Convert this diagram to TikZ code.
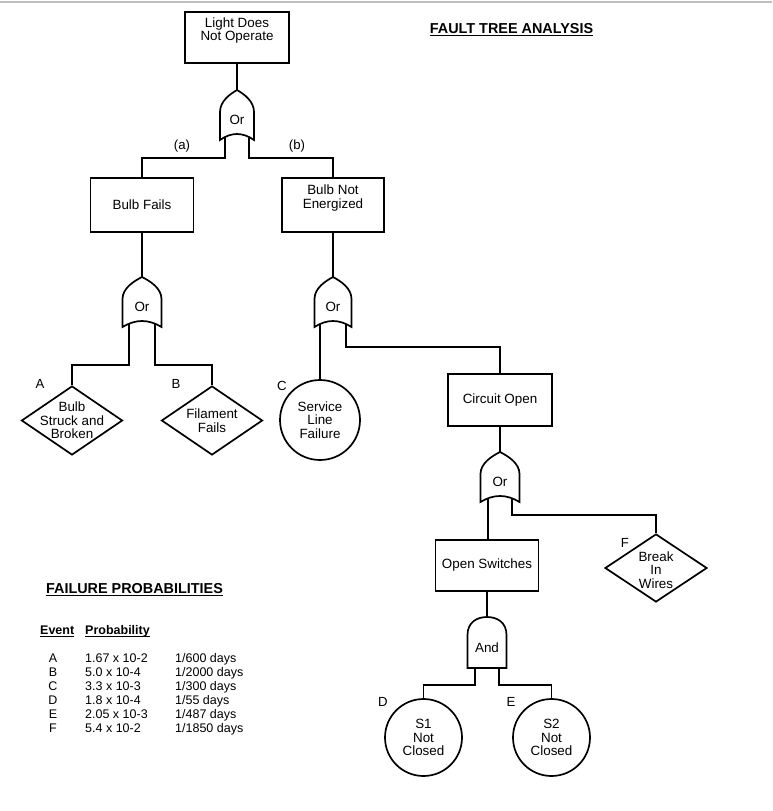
\documentclass[tikz,border=0pt]{standalone}
\usepackage{fontspec}
\setmainfont{Liberation Sans}
\usetikzlibrary{shapes.geometric,backgrounds}
\tikzset{
  pics/orgate/.style n args={2}{code={
    \path[gate] (-#1/2,50) -- (-#1/2,22) .. controls (-#1/2,11) and (-0.2*#1,4) .. (0,0)
      .. controls (0.2*#1,4) and (#1/2,11) .. (#1/2,22) -- (#1/2,50)
      .. controls (#1/6,42) and (-#1/6,42) .. cycle;
    \node[gatetext] (-t) at (0,30) {Or};
    \coordinate (-in) at (0,0);
    \coordinate (-l) at (-#2,45);
    \coordinate (-r) at (#2,45);
  }},
  pics/andgate/.style n args={2}{code={
    \path[gate] (-#1/2,51) -- (-#1/2,18) .. controls (-#1/2,5) and (-#1/4,0) .. (0,0)
      .. controls (#1/4,0) and (#1/2,5) .. (#1/2,18) -- (#1/2,51) -- cycle;
    \node[gatetext] (-t) at (0,31) {And};
    \coordinate (-in) at (0,0);
    \coordinate (-l) at (-#2,49);
    \coordinate (-r) at (#2,49);
  }}
}
\begin{document}
\begin{tikzpicture}[x=1pt,y=-1pt,
  every node/.style={inner sep=0pt},
  ln/.style={line width=1.7pt, black},
  txt/.style={font=\fontsize{13.4}{13.5}\selectfont, align=center},
  box/.style={draw, line width=1.7pt, fill=white, align=center, font=\fontsize{13.4}{13.5}\selectfont},
  dia/.style={draw, line width=1.7pt, fill=white, diamond, minimum width=101, minimum height=69},
  circ/.style={draw, line width=1.7pt, fill=white, circle, align=center, font=\fontsize{13.4}{13.5}\selectfont},
  lbl/.style={font=\fontsize{13.2}{14}\selectfont},
  gate/.style={draw, line width=1.7pt, fill=white},
  gatetext/.style={font=\fontsize{13.4}{14}\selectfont},
  tab/.style={font=\fontsize{12.5}{14}\selectfont, anchor=base west},
  tabc/.style={font=\fontsize{12.5}{14}\selectfont, anchor=base},
  head/.style={font=\bfseries\fontsize{14.4}{16}\selectfont, anchor=base}
]
\useasboundingbox (0,0) rectangle (772,811);
\draw[black!25, line width=1.2pt] (0,2) -- (772,2);

% title
\node[head] (title) at (511.5,33) {FAULT TREE ANALYSIS};
\draw[line width=1pt] ([yshift=-2pt]title.base west) -- ([yshift=-2pt]title.base east);

% boxes
\node[box, minimum width=104, minimum height=51] (top) at (237,37.5) {Light Does\\Not Operate\\[3pt]};
\node[box, minimum width=103, minimum height=54] (bf) at (142,205) {Bulb Fails};
\node[box, minimum width=102, minimum height=54] (bne) at (333,205) {Bulb Not\\Energized\\[3pt]};
\node[box, minimum width=104, minimum height=52] (co) at (500,400) {Circuit Open};
\node[box, minimum width=103, minimum height=51] (os) at (487,565.5) {Open Switches};

% gates
\pic (g0) at (237,90) {orgate={34}{12}};
\pic (g1) at (142,277) {orgate={39}{13}};
\pic (g2) at (333,277) {orgate={37}{13}};
\pic (g3) at (500,452) {orgate={39}{12}};
\pic (ga) at (487,617) {andgate={39}{12}};

% basic events
\node[dia] (A) at (72,420.5) {};
\node[txt] (Atxt) at (A.center) {Bulb\\Struck and\\Broken};
\node[dia] (B) at (212,420.5) {};
\node[txt] (Btxt) at (B.center) {Filament\\Fails};
\node[dia, minimum width=102, minimum height=68] (F) at (656,568) {};
\node[txt] (Ftxt) at ([yshift=-2pt]F.center) {Break\\In\\Wires};
\node[circ, minimum size=80] (C) at (320,420) {Service\\Line\\Failure};
\node[circ, minimum size=77] (D) at (423.5,737.5) {S1\\Not\\Closed};
\node[circ, minimum size=77] (E) at (551.5,737.5) {S2\\Not\\Closed};

% letter labels
\node[lbl] (la) at (182,146) {(a)};
\node[lbl] (lb) at (297,146) {(b)};
\node[lbl] (lA) at (40,384) {A};
\node[lbl] (lB) at (176,384) {B};
\node[lbl] (lC) at (282,386) {C};
\node[lbl] (lD) at (383,702) {D};
\node[lbl] (lE) at (511,702) {E};
\node[lbl] (lF) at (625,543) {F};

% connectors
\begin{scope}[on background layer]
\draw[ln] (top.south) -- (g0-in);
\draw[ln] (g0-l) -- ++(0,23) -| (bf.north);
\draw[ln] (g0-r) -- ++(0,23) -| (bne.north);
\draw[ln] (bf.south) -- (g1-in);
\draw[ln] (bne.south) -- (g2-in);
\draw[ln] (g1-l) -- ++(0,43) -| (A.north);
\draw[ln] (g1-r) -- ++(0,43) -| (B.north);
\draw[ln] (g2-l) -- (g2-l |- C.north);
\draw[ln] (g2-r) -- ++(0,25) -| (co.north);
\draw[ln] (co.south) -- (g3-in);
\draw[ln] (g3-l) -- (g3-l |- os.north);
\draw[ln] (g3-r) -- ++(0,18) -| (F.north);
\draw[ln] (os.south) -- (ga-in);
\draw[ln] (ga-l) -- ++(0,19) -| (D.north);
\draw[ln] (ga-r) -- ++(0,19) -| (E.north);
\end{scope}

% failure probabilities
\node[head] (fp) at (134.5,593) {FAILURE PROBABILITIES};
\draw[line width=1pt] ([yshift=-2pt]fp.base west) -- ([yshift=-2pt]fp.base east);
\node[tab, font=\bfseries\fontsize{12.5}{14}\selectfont] (ev) at (40,634) {Event};
\draw[line width=0.9pt] ([yshift=-2pt]ev.base west) -- ([yshift=-2pt]ev.base east);
\node[tab, font=\bfseries\fontsize{12.5}{14}\selectfont] (pr) at (85,634) {Probability};
\draw[line width=0.9pt] ([yshift=-2pt]pr.base west) -- ([yshift=-2pt]pr.base east);

\node[tabc] (rA) at (53,662) {A};
\node[tab] (pA) at (85,662) {1.67 x 10-2};
\node[tab] (dA) at (175,662) {1/600 days};
\node[tabc] (rB) at (53,676) {B};
\node[tab] (pB) at (85,676) {5.0 x 10-4};
\node[tab] (dB) at (175,676) {1/2000 days};
\node[tabc] (rC) at (53,690) {C};
\node[tab] (pC) at (85,690) {3.3 x 10-3};
\node[tab] (dC) at (175,690) {1/300 days};
\node[tabc] (rD) at (53,704) {D};
\node[tab] (pD) at (85,704) {1.8 x 10-4};
\node[tab] (dD) at (175,704) {1/55 days};
\node[tabc] (rE) at (53,718) {E};
\node[tab] (pE) at (85,718) {2.05 x 10-3};
\node[tab] (dE) at (175,718) {1/487 days};
\node[tabc] (rF) at (53,732) {F};
\node[tab] (pF) at (85,732) {5.4 x 10-2};
\node[tab] (dF) at (175,732) {1/1850 days};
\end{tikzpicture}
\end{document}
